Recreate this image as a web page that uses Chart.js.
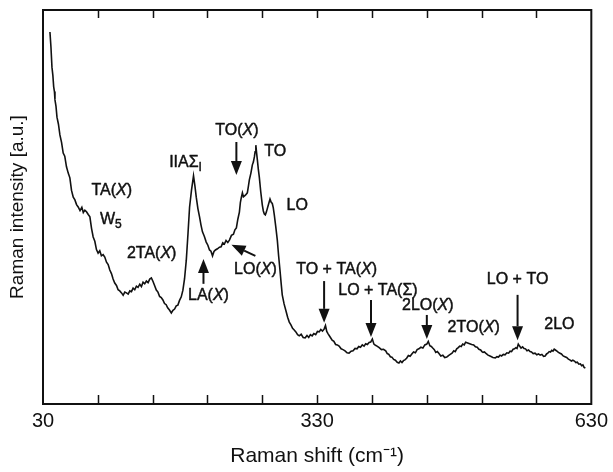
<!DOCTYPE html>
<html>
<head>
<meta charset="utf-8">
<script src="https://cdn.jsdelivr.net/npm/chart.js@4/dist/chart.umd.min.js"></script>
<style>
  html, body { margin: 0; padding: 0; background: #fff; }
  canvas { display: block; }
</style>
</head>
<body>
<canvas id="raman" width="613" height="472"></canvas>
<script>
// Raman shift (cm^-1) of each sampled point of the spectrum
const ramanShift = [
  // steep low-frequency wing
  37.6, 38.7, 39.8, 40.8, 41.7, 42.5, 43.1, 44.2, 45.3, 46.9, 48.5, 50.3, 52.1, 53.8, 55.7, 57.6, 59.4, 61.2, 63.1,
  // TA(X) shoulder and W5
  64.9, 66.7, 68.5, 70.5, 72.5, 74.1, 75.8, 77.6, 79.5, 81.3, 83.1, 84.9, 86.7, 88.5, 90.3, 92.1,
  93.9, 95.8, 97.6, 99.5, 101.3, 103.1, 104.9, 106.7, 108.5, 110.4, 112.2, 114.0, 115.9, 117.7, 119.5, 121.3,
  // 2TA(X) bump
  123.2, 125.0, 126.8, 128.6, 130.4, 132.2, 134.0, 135.9, 137.7, 139.5, 141.3, 143.1, 145.0, 146.8, 148.6, 150.4, 152.2,
  154.0, 155.8, 157.6, 159.4, 161.2, 163.0, 164.8, 166.4, 168.2, 170.4, 172.2, 174.0, 175.8, 177.6, 179.4, 181.3, 183.1,
  // IIA Sigma_I peak
  184.9, 186.8, 188.7, 190.4, 192.5, 194.7, 196.2, 197.7, 199.5, 201.3, 202.9, 204.5, 206.5, 208.6, 210.4, 212.2,
  213.8, 215.5, 217.1, 218.7,
  // rise to TO
  220.9, 223.1, 224.9, 226.7, 228.5, 230.3, 232.2, 234.0, 236.2, 238.4, 240.0, 241.6, 243.2, 244.9, 246.0, 247.1,
  248.2, 249.3, 251.5, 253.6, 254.7, 255.8, 257.5, 259.1, 260.2, 261.3, 262.1, 262.9,
  // TO / LO pair and fall-off
  263.7, 264.6, 265.6, 266.7, 268.3, 270.0, 271.1, 272.2, 273.3, 274.4, 276.4, 278.4, 279.7, 280.9, 282.0, 283.1,
  284.7, 286.4, 287.8, 289.3, 290.6, 291.8, 293.8, 295.9, 297.7, 299.5, 301.3, 303.1, 304.9,
  // TO + TA(X)
  306.7, 308.6, 310.4, 312.5, 314.7, 316.9, 318.9, 320.8, 322.6, 324.5, 326.4, 328.4, 330.3, 332.2, 334.0, 335.8,
  337.6, 339.1, 340.5, 342.0, 344.2, 346.4, 348.3, 350.2, 352.1, 354.0, 356.2, 358.3, 360.5, 362.7, 364.9,
  // LO + TA(Sigma)
  367.1, 369.3, 371.5, 373.6, 375.5, 377.4, 379.4, 381.3, 383.1, 385.0, 386.8, 388.6, 390.4, 392.1, 393.8, 395.5,
  397.9, 400.3, 402.6, 405.0, 406.7, 408.4, 410.1, 411.8, 413.7, 415.6, 417.6, 419.5,
  // 2LO(X)
  421.1, 422.8, 424.4, 426.0, 427.9, 429.8, 431.7, 433.6, 435.5, 437.5, 439.4, 441.3, 443.5, 445.7, 447.8, 450.0,
  451.6, 453.3, 454.9, 456.5, 458.2, 459.8, 461.5, 463.1, 465.3, 467.5, 469.6, 471.8,
  // 2TO(X)
  473.7, 475.6, 477.6, 479.5, 481.1, 482.7, 484.4, 486.0, 487.6, 489.3, 490.9, 492.5, 494.7, 496.9, 499.1, 501.3,
  503.2, 505.1, 507.0, 508.9, 510.3, 511.6, 513.0, 514.4, 517.0, 519.7, 522.3, 525.0,
  // LO + TO
  526.7, 528.4, 530.1, 531.8, 533.7, 535.6, 537.6, 539.5, 541.1, 542.7, 544.4, 546.0, 547.4, 548.7, 550.1, 551.5,
  553.1, 554.8, 556.4, 558.0, 559.6, 561.3, 562.9, 564.5, 566.4, 568.4, 570.3, 572.2,
  // 2LO and high-frequency tail
  574.0, 575.9, 577.7, 579.5, 581.0, 582.4, 583.9, 585.3, 586.7, 588.0, 589.4, 590.7, 592.4, 594.0, 595.7, 597.3,
  599.2, 601.1, 603.0, 604.9, 606.5, 608.2, 609.8, 611.5, 613.1, 614.7, 616.4, 618.0, 619.4, 620.8, 622.1, 623.5
];

// Raman intensity (a.u.) at each shift above
const ramanIntensity = [
  94.4, 90.6, 85.5, 83.4, 80.5, 79.3, 77.2, 75.6, 72.8, 71.0, 68.3, 66.4, 63.7, 62.9, 60.2, 58.6, 57.4, 54.2, 52.5,
  51.8, 50.6, 50.0, 49.1, 49.9, 48.6, 49.2, 48.8, 48.1, 47.5, 44.6, 42.4, 41.3, 39.2, 38.3, 38.9,
  37.6, 37.9, 37.3, 36.0, 35.4, 34.0, 33.1, 31.7, 30.7, 30.1, 29.0, 28.7, 28.2, 27.6, 28.4, 28.2,
  27.9, 28.7, 28.5, 29.4, 29.0, 29.9, 29.6, 30.4, 29.8, 30.9, 30.5, 31.2, 30.8, 31.7, 32.0, 31.1, 30.0,
  28.9, 28.4, 27.3, 27.0, 26.4, 25.5, 25.2, 24.4, 23.9, 23.1, 23.8, 24.1, 24.9, 25.1, 26.3, 27.2, 28.9,
  31.8, 36.5, 43.4, 50.0, 54.3, 57.9, 55.4, 52.5, 49.6, 47.5, 45.4, 43.7, 42.6, 41.1, 40.3, 39.1,
  38.8, 37.6, 38.7, 39.1,
  39.4, 39.8, 39.9, 40.9, 40.6, 41.5, 41.0, 41.6, 42.8, 43.1, 44.2, 44.7, 46.9, 48.7, 51.2, 52.5,
  53.6, 52.6, 53.0, 53.6, 55.2, 56.9, 58.6, 60.7, 61.4, 62.7, 64.0, 65.7,
  63.8, 61.9, 59.6, 57.6, 53.8, 50.5, 49.0, 48.2, 48.0, 48.7, 50.4, 52.0, 51.2, 50.9, 49.8, 48.0,
  45.0, 41.6, 37.7, 34.0, 30.6, 27.7, 25.4, 23.6, 22.0, 20.8, 20.1, 19.2, 18.8,
  18.3, 17.6, 17.3, 17.7, 16.9, 16.8, 17.4, 16.9, 17.6, 17.3, 17.9, 17.6, 18.4, 18.3, 18.9, 18.5,
  19.0, 19.9, 18.4, 17.8, 17.0, 16.2, 15.9, 15.1, 15.0, 14.7, 14.0, 13.8, 13.5, 13.0, 12.9,
  13.4, 13.5, 14.1, 14.0, 14.6, 14.4, 15.0, 14.7, 15.3, 15.1, 15.6, 15.7, 16.5, 15.2, 14.9, 14.7,
  14.3, 13.8, 13.9, 13.5, 12.8, 12.6, 12.0, 11.9, 11.3, 11.1, 10.6, 10.4,
  10.9, 10.5, 11.0, 11.2, 11.6, 12.3, 12.1, 12.7, 13.2, 13.0, 13.8, 14.0, 14.4, 14.2, 15.0, 15.2,
  15.9, 14.8, 14.6, 14.2, 13.8, 13.1, 13.3, 12.9, 12.2, 12.4, 11.8, 11.9,
  12.3, 12.6, 12.9, 13.5, 13.3, 14.0, 14.3, 14.7, 14.6, 15.2, 15.0, 15.7, 15.5, 15.3, 15.1, 15.0,
  14.5, 14.4, 13.9, 13.7, 13.3, 13.1, 13.2, 12.9, 12.4, 12.1, 11.8, 11.7,
  12.0, 11.9, 12.4, 12.2, 12.6, 12.5, 13.0, 12.9, 13.4, 13.3, 13.9, 14.0, 14.3, 14.1, 15.2, 14.7,
  14.2, 14.5, 14.1, 14.0, 13.5, 13.7, 13.3, 13.2, 12.8, 12.9, 12.5, 12.7,
  12.4, 12.6, 12.1, 12.2, 12.7, 12.9, 13.3, 13.2, 13.6, 13.4, 13.9, 13.7, 13.4, 13.1, 12.9, 12.7,
  12.2, 12.0, 11.8, 11.4, 11.2, 10.9, 11.1, 10.9, 10.5, 10.6, 10.1, 10.2, 9.7, 9.9, 9.3, 9.1
];

// Labelled tick values on the shift axis (minor ticks every 60 cm^-1)
const shiftTickLabels = [30, 330, 630];

// Peak assignments: *..* = italic, _c = subscript character; anchored at (shift, intensity)
const peakLabels = [
  { text: 'TA(*X*)',     shift: 105.3, level: 54.1 },
  { text: 'W_5',         shift: 104.2, level: 46.7 },
  { text: '2TA(*X*)',    shift: 148.9, level: 38.1 },
  { text: 'IIAΣ_I',      shift: 186.0, level: 61.2 },
  { text: 'TO(*X*)',     shift: 242.2, level: 69.3 },
  { text: 'TO',          shift: 284.2, level: 64.0 },
  { text: 'LO',          shift: 308.2, level: 50.3 },
  { text: 'LA(*X*)',     shift: 211.1, level: 27.4 },
  { text: 'LO(*X*)',     shift: 262.4, level: 34.0 },
  { text: 'TO + TA(*X*)', shift: 351.3, level: 34.0 },
  { text: 'LO + TA(Σ)',  shift: 396.5, level: 28.7 },
  { text: '2LO(*X*)',    shift: 451.1, level: 24.9 },
  { text: '2TO(*X*)',    shift: 501.3, level: 19.3 },
  { text: 'LO + TO',     shift: 549.3, level: 31.5 },
  { text: '2LO',         shift: 595.1, level: 20.1 }
];

// Arrows pointing at the assigned features: tail -> head in (shift, intensity)
const peakArrows = [
  { from: [241.6, 66.5], to: [241.6, 58.1] },
  { from: [205.6, 30.5], to: [205.6, 36.8] },
  { from: [262.4, 37.6], to: [236.2, 40.4] },
  { from: [337.6, 31.2], to: [337.6, 20.6] },
  { from: [388.9, 26.4], to: [388.9, 17.0] },
  { from: [450.0, 22.6], to: [450.0, 16.5] },
  { from: [549.3, 27.7], to: [549.3, 16.2] }
];

const FONT = '"Liberation Sans", Arial, Helvetica, sans-serif';
const INK = '#111';

function richSegments(str) {
  const segs = [];
  const re = /\*([^*]+)\*|_(.)|([^*_]+)/g;
  let m;
  while ((m = re.exec(str))) {
    if (m[1]) segs.push({ t: m[1], italic: true });
    else if (m[2]) segs.push({ t: m[2], sub: true });
    else segs.push({ t: m[3] });
  }
  return segs;
}

function segFont(s, size) {
  if (s.sub) return `${Math.round(size * 0.72)}px ${FONT}`;
  return `${s.italic ? 'italic ' : ''}${size}px ${FONT}`;
}

// Label text with a hairline outline so it reads as a medium weight
function drawRich(ctx, str, cx, cy, size) {
  const segs = richSegments(str);
  let total = 0;
  segs.forEach(s => { ctx.font = segFont(s, size); s.w = ctx.measureText(s.t).width; total += s.w; });
  let x = cx - total / 2;
  ctx.textAlign = 'left';
  ctx.textBaseline = 'middle';
  ctx.lineWidth = 0.45;
  ctx.lineJoin = 'round';
  segs.forEach(s => {
    ctx.font = segFont(s, size);
    const yy = cy + (s.sub ? size * 0.32 : 0);
    ctx.fillText(s.t, x, yy);
    ctx.strokeText(s.t, x, yy);
    x += s.w;
  });
}

function drawArrow(ctx, x1, y1, x2, y2) {
  const ang = Math.atan2(y2 - y1, x2 - x1);
  const headLen = 14, headHalf = 5.5;
  const bx = x2 - headLen * Math.cos(ang), by = y2 - headLen * Math.sin(ang);
  ctx.beginPath();
  ctx.moveTo(x1, y1);
  ctx.lineTo(bx, by);
  ctx.lineWidth = 2;
  ctx.strokeStyle = INK;
  ctx.stroke();
  ctx.beginPath();
  ctx.moveTo(x2, y2);
  ctx.lineTo(bx + headHalf * Math.sin(ang), by - headHalf * Math.cos(ang));
  ctx.lineTo(bx - headHalf * Math.sin(ang), by + headHalf * Math.cos(ang));
  ctx.closePath();
  ctx.fillStyle = INK;
  ctx.fill();
}

// Frame, inward ticks on top and bottom, and peak annotations
const framePlugin = {
  id: 'ramanFrame',
  afterDatasetsDraw(chart) {
    const { ctx, chartArea: a, scales: { x, y } } = chart;
    ctx.save();
    ctx.strokeStyle = INK;
    ctx.lineWidth = 2;
    ctx.strokeRect(a.left, a.top, a.right - a.left, a.bottom - a.top);
    ctx.lineWidth = 1.5;
    x.ticks.forEach(t => {
      const px = Math.round(x.getPixelForValue(t.value)) + 0.5;
      if (px <= a.left + 2 || px >= a.right - 2) return;
      ctx.beginPath();
      ctx.moveTo(px, a.bottom); ctx.lineTo(px, a.bottom - 9);
      ctx.moveTo(px, a.top); ctx.lineTo(px, a.top + 8);
      ctx.stroke();
    });
    ctx.fillStyle = INK;
    ctx.strokeStyle = INK;
    peakLabels.forEach(l => {
      drawRich(ctx, l.text, x.getPixelForValue(l.shift), y.getPixelForValue(l.level), 16);
    });
    peakArrows.forEach(ar => {
      drawArrow(ctx,
        x.getPixelForValue(ar.from[0]), y.getPixelForValue(ar.from[1]),
        x.getPixelForValue(ar.to[0]), y.getPixelForValue(ar.to[1]));
    });
    ctx.restore();
  }
};

new Chart(document.getElementById('raman'), {
  type: 'line',
  data: {
    datasets: [{
      data: ramanShift.map((s, i) => ({ x: s, y: ramanIntensity[i] })),
      borderColor: INK,
      borderWidth: 1.6,
      pointRadius: 0,
      tension: 0,
      fill: false
    }]
  },
  options: {
    responsive: false,
    animation: false,
    layout: { padding: { top: 10, right: 20, left: 0, bottom: 0 } },
    plugins: { legend: { display: false }, tooltip: { enabled: false } },
    scales: {
      x: {
        type: 'linear',
        min: 30, max: 630,
        grid: { display: false, drawTicks: false },
        border: { display: false },
        ticks: {
          stepSize: 60,
          autoSkip: false,
          maxRotation: 0,
          padding: 5,
          color: INK,
          font: { family: FONT, size: 20 },
          callback: v => shiftTickLabels.includes(v) ? String(v) : ''
        },
        title: {
          display: true,
          text: 'Raman shift (cm⁻¹)',
          color: INK,
          font: { family: FONT, size: 21 },
          padding: { top: 0, bottom: 3 }
        },
        afterFit: s => { s.height = 68; }
      },
      y: {
        min: 0, max: 100,
        grid: { display: false, drawTicks: false },
        border: { display: false },
        ticks: { display: false },
        title: {
          display: true,
          text: 'Raman intensity [a.u.]',
          color: INK,
          font: { family: FONT, size: 19 },
          padding: { top: 6, bottom: 0 }
        },
        afterFit: s => { s.width = 43; }
      }
    }
  },
  plugins: [framePlugin]
});
</script>
</body>
</html>
